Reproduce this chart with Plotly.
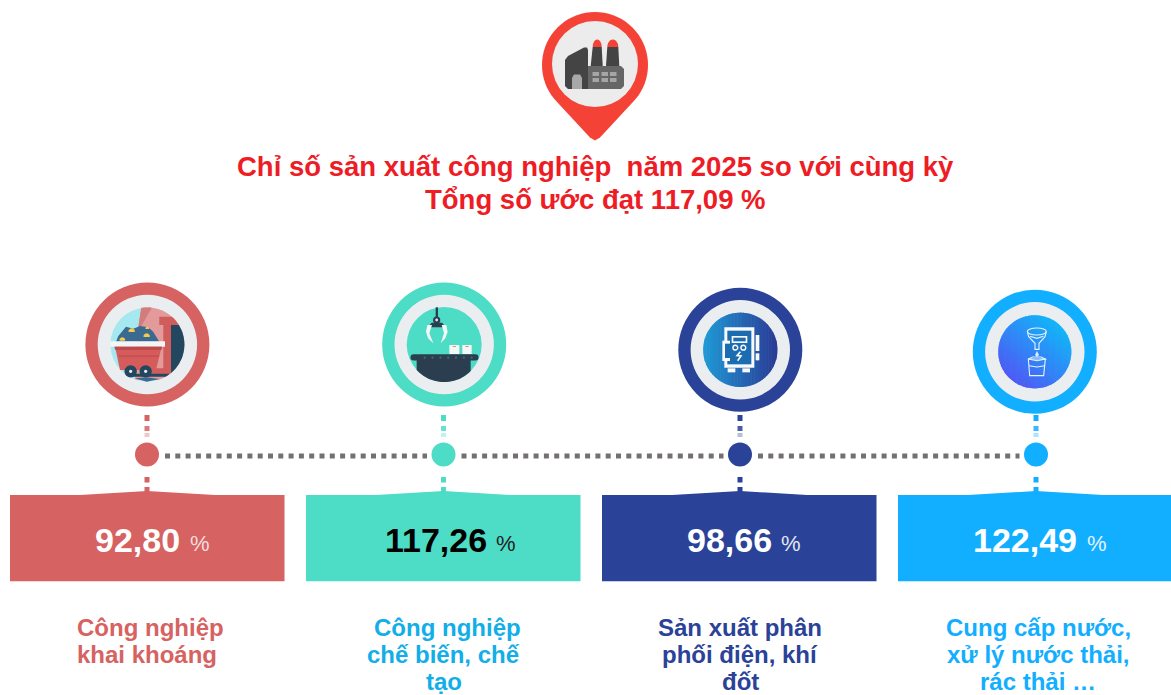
import math
import plotly.graph_objects as go

W, H = 1171, 695
FONT = "Liberation Sans"

# ---------- data ----------
title_lines = ["Chỉ số sản xuất công nghiệp\u00a0 năm 2025 so với cùng kỳ", "Tổng số ước đạt 117,09 %"]
value_labels = ["92,80", "117,26", "98,66", "122,49"]
value_colors = ["#ffffff", "#000000", "#ffffff", "#ffffff"]
percent_colors = ["#f4dede", "#222222", "#e4e6f2", "#e4f4ff"]
category_lines = [
    ["Công nghiệp", "khai khoáng"],
    ["Công nghiệp", "chế biến, chế", "tạo"],
    ["Sản xuất phân", "phối điện, khí", "đốt"],
    ["Cung cấp nước,", "xử lý nước thải,", "rác thải …"],
]
theme_colors = ["#d66262", "#4ddcc5", "#2a4298", "#12aeff"]
label_colors = ["#d66262", "#12aee8", "#2a4298", "#12aeff"]

# ---------- layout constants ----------
node_x = [147, 443.5, 740, 1036]
ring_x = [147.4, 444.2, 740.3, 1034.8]
ring_y = [344.5, 344.5, 349.8, 351.8]
inner_r = [37, 37.5, 37.2, 36.6]
box_l = [10, 306, 602, 898]
box_w = 274.5
value_dx = [-9.5, -7.5, -11, -11.5]
pct_dx = [52.5, 62, 50.5, 60.5]
label_dx = [[3, 0], [3.5, 0, 0], [0, 0, 0], [2, 2, 2]]
label_y = [627, 654.5, 681.5]

shapes = []

def rect(x0, y0, x1, y1, fill, **kw):
    shapes.append(dict(type="rect", x0=x0, y0=y0, x1=x1, y1=y1, fillcolor=fill, line_width=0, **kw))

def circ(cx, cy, r, fill, line=None, lw=0):
    shapes.append(dict(type="circle", x0=cx-r, x1=cx+r, y0=cy-r, y1=cy+r, fillcolor=fill,
                       line=dict(color=line or fill, width=lw)))

def poly(pts, fill, line=None, lw=0):
    p = "M" + " L".join(f"{x:.2f},{y:.2f}" for x, y in pts) + " Z"
    shapes.append(dict(type="path", path=p, fillcolor=fill, line=dict(color=line or fill, width=lw)))

def outline(pts, color, lw=1.2, close=False):
    p = "M" + " L".join(f"{x:.2f},{y:.2f}" for x, y in pts) + (" Z" if close else "")
    shapes.append(dict(type="path", path=p, line=dict(color=color, width=lw)))

def line(x0, y0, x1, y1, color, w, dash="solid"):
    shapes.append(dict(type="line", x0=x0, y0=y0, x1=x1, y1=y1, line=dict(color=color, width=w, dash=dash)))

def circle_pts(cx, cy, r, n=96):
    return [(cx + r*math.cos(2*math.pi*i/n), cy + r*math.sin(2*math.pi*i/n)) for i in range(n)]

def clip(subject, clipper):
    """Convex polygon clip (clockwise on screen)."""
    out = subject
    for i in range(len(clipper)):
        a, b = clipper[i], clipper[(i+1) % len(clipper)]
        inp, out = out, []
        if not inp:
            break
        def inside(p):
            return (b[0]-a[0])*(p[1]-a[1]) - (b[1]-a[1])*(p[0]-a[0]) >= 0
        def inter(p, q):
            d1 = (b[0]-a[0])*(p[1]-a[1]) - (b[1]-a[1])*(p[0]-a[0])
            d2 = (b[0]-a[0])*(q[1]-a[1]) - (b[1]-a[1])*(q[0]-a[0])
            t = d1/(d1-d2)
            return (p[0]+t*(q[0]-p[0]), p[1]+t*(q[1]-p[1]))
        s = inp[-1]
        for e in inp:
            if inside(e):
                if not inside(s):
                    out.append(inter(s, e))
                out.append(e)
            elif inside(s):
                out.append(inter(s, e))
            s = e
    return out

def hexrgb(h):
    return [int(h[i:i+2], 16) for i in (1, 3, 5)]

def gradient_disc(cx, cy, r, c0, c1, angle=0.0, n=48):
    """Disc filled with a linear gradient, from thin clipped bands."""
    disc = circle_pts(cx, cy, r)
    ux, uy = math.cos(angle), math.sin(angle)
    vx, vy = -uy, ux
    a, b = hexrgb(c0), hexrgb(c1)
    for i in range(n):
        t0 = -r + 2*r*i/n
        t1 = -r + 2*r*(i+1)/n + 0.6
        band = [(cx+ux*t0-vx*2*r, cy+uy*t0-vy*2*r), (cx+ux*t1-vx*2*r, cy+uy*t1-vy*2*r),
                (cx+ux*t1+vx*2*r, cy+uy*t1+vy*2*r), (cx+ux*t0+vx*2*r, cy+uy*t0+vy*2*r)]
        piece = clip(band, disc)
        if len(piece) > 2:
            f = (i+.5)/n
            col = "#%02x%02x%02x" % tuple(round(a[k]+(b[k]-a[k])*f) for k in range(3))
            poly(piece, col)

def rings(i):
    circ(ring_x[i], ring_y[i], 62, theme_colors[i])
    circ(ring_x[i], ring_y[i], 49.7, "#ebeef1")

def cap(x0, x1, ybase, rise):
    """Half-elliptic chimney cap."""
    mx, rx = (x0+x1)/2, (x1-x0)/2
    return [(mx+rx*math.cos(math.radians(a)), ybase+rise*math.sin(math.radians(a))) for a in range(180, 361, 15)]

# ---------- pin ----------
PCX, PCY = 595, 65
head = [(PCX+53*math.cos(math.radians(a)), PCY+53*math.sin(math.radians(a))) for a in range(-225, 46, 5)]
poly(head + [(PCX+5, 137.5), (PCX, 140.5), (PCX-5, 137.5)], "#f44336")
circ(PCX, 64, 43, "#ececec")
poly([(565, 60), (568, 56), (584, 47.5), (587, 47.5), (588, 50), (588, 89), (568, 89), (565, 86)], "#444444")
poly([(588, 66), (621, 66), (624, 69), (624, 86), (621, 89), (588, 89)], "#666666")
poly([(592.7, 47), (601.7, 47), (602.7, 66), (590.7, 66)], "#444444")
poly([(607.3, 47), (618.3, 47), (619.3, 66), (606, 66)], "#444444")
poly(cap(592.7, 601.7, 47, 7.5), "#f44336")
poly(cap(607.3, 618.3, 47, 7.5), "#f44336")
poly([(572, 89), (572, 78), (574, 74.5), (580, 74.5), (582, 78), (582, 89)], "#a8a8a8")
for wx in (592.5, 601.5, 610):
    for wy in (72, 78):
        rect(wx, wy, wx+6.5, wy+4, "#a5a5a5")

# ---------- icon 1: mine cart ----------
rings(0)
ox, oy = 70, 270
Z = lambda x, y: (ox+x/3, oy+y/3)
cdisc = circle_pts(ring_x[0], ring_y[0], inner_r[0])
circ(ring_x[0], ring_y[0], inner_r[0], "#a5e8ef")
def cpoly(zpts, fill):
    piece = clip([Z(*p) for p in zpts], cdisc)
    if len(piece) > 2:
        poly(piece, fill)
cpoly([(215, 105), (350, 105), (350, 330), (195, 330), (205, 170)], "#e39a9a")
cpoly([(215, 105), (250, 105), (212, 172), (205, 172)], "#d27c7c")
cpoly([(303, 165), (350, 165), (350, 315), (303, 315)], "#22475f")
cpoly([(268, 140), (330, 140), (330, 165), (268, 165)], "#d05c5c")
cpoly([(280, 165), (303, 165), (303, 297), (280, 297)], "#d05c5c")
cpoly([(235, 295), (303, 295), (303, 312), (235, 312)], "#d05c5c")
cpoly([(190, 311), (350, 311), (350, 320), (190, 320)], "#22475f")
poly([Z(*p) for p in [(138, 215), (145, 198), (168, 170), (190, 176), (210, 168), (235, 172), (250, 186), (268, 215)]], "#3a6a90")
for bx, by, br in [(185, 185, 10), (230, 200, 10), (157, 211, 9), (232, 176, 6)]:
    arc = [Z(bx+br*math.cos(math.radians(a)), by+br*math.sin(math.radians(a))) for a in range(180, 361, 30)]
    poly(arc + [Z(bx+br*.6, by+1), Z(bx-br*.6, by+1)], "#f5cb4c")
cpoly([(120, 214), (285, 214), (285, 230), (120, 230)], "#f2f4f6")
poly([Z(*p) for p in [(135, 230), (275, 230), (258, 300), (150, 300)]], "#d65c5c")
poly([Z(*p) for p in [(133, 230), (277, 230), (274, 240), (136, 240)]], "#bd4b4b")
poly([Z(*p) for p in [(145, 255), (268, 255), (266, 262), (147, 262)]], "#c65353")
for wxz in (182, 227):
    wc = Z(wxz, 304)
    circ(wc[0], wc[1], 6.2, "#22475f")
    circ(wc[0], wc[1], 1.7, "#e8eef2")
poly([Z(*p) for p in [(195, 325), (230, 322), (268, 327), (230, 335)]], "#3a6a90")

# ---------- icon 2: robot arm ----------
rings(1)
ox, oy = 370, 270
circ(ring_x[1], ring_y[1], inner_r[1], theme_colors[1])
cdisc = circle_pts(ring_x[1], ring_y[1], inner_r[1])
DARK = "#2b3e50"
rect(*Z(197, 112), *Z(204, 146), DARK)
circ(*Z(200, 150), 3.6, DARK)
poly([Z(*p) for p in [(185, 158), (216, 158), (228, 172), (173, 172)]], DARK)
circ(*Z(200, 150), 1.4, "#dfe7ea")
poly([Z(*p) for p in [(172, 165), (186, 165), (178, 190), (190, 220), (174, 205), (168, 185)]], "#f4f6f7")
poly([Z(*p) for p in [(215, 165), (229, 165), (233, 185), (226, 205), (212, 220), (222, 190)]], "#f4f6f7")
rect(*Z(238, 225), *Z(268, 252), "#f6f7f7")
rect(*Z(277, 225), *Z(305, 252), "#f6f7f7")
rect(*Z(248, 228), *Z(258, 231), "#f08a70")
rect(*Z(286, 228), *Z(296, 231), "#f08a70")
poly(clip([Z(*p) for p in [(140, 270), (302, 270), (302, 345), (140, 345)]], cdisc), DARK)
line(Z(134, 0)[0], Z(0, 262)[1], Z(313, 0)[0], Z(0, 262)[1], DARK, 6.4)
circ(*Z(131, 262), 3.2, DARK)
circ(*Z(316, 262), 3.2, DARK)
for k in range(7):
    circ(*Z(164+k*23.5, 263), 1.1, "#4b6475")

# ---------- icon 3: electric cabinet ----------
rings(2)
ox, oy = 665, 275
gradient_disc(ring_x[2], ring_y[2], inner_r[2], "#1f9ad6", "#2a3a95")
MID = "#1b6cb0"
WHITE = "#f8fafc"
rect(*Z(178, 157), *Z(268, 278), WHITE)
rect(*Z(187, 167), *Z(259, 268), MID)
rect(*Z(200, 183), *Z(247, 204), WHITE)
rect(*Z(205, 188), *Z(242, 199), MID)
for kx in (211, 235):
    c = Z(kx, 218)
    circ(c[0], c[1], 2.4, MID, WHITE, 1.4)
outline([Z(*p) for p in [(226, 230), (216, 242), (228, 243), (218, 257)]], WHITE, 1.6)
rect(*Z(172, 197), *Z(195, 258), WHITE)
rect(*Z(180, 206), *Z(196, 249), MID)
rect(*Z(272, 180), *Z(283, 228), WHITE)
rect(*Z(272, 235), *Z(283, 256), WHITE)
rect(*Z(188, 280), *Z(211, 292), WHITE)
rect(*Z(232, 280), *Z(255, 292), WHITE)

# ---------- icon 4: funnel and cup ----------
rings(3)
ox, oy = 960, 275
gradient_disc(ring_x[3], ring_y[3], inner_r[3], "#0fb6f8", "#4e59f5", angle=math.radians(130))
LW = 1.1
LC = "#e6f3ff"
shapes.append(dict(type="circle", x0=Z(202, 0)[0], x1=Z(259, 0)[0], y0=Z(0, 159)[1], y1=Z(0, 180)[1],
                   line=dict(color=LC, width=LW)))
outline([Z(*p) for p in [(202, 170), (206, 185), (225, 205), (225, 223), (237, 223), (237, 205), (255, 185), (259, 170)]], LC, LW)
outline([Z(*p) for p in [(210, 184), (231, 190), (250, 184)]], LC, LW)
poly([Z(*p) for p in [(231, 228), (237, 240), (231, 246), (225, 240)]], "#dcecff")
outline([Z(*p) for p in [(205, 252), (209, 302), (251, 302), (256, 252)]], LC, LW, close=True)
outline([Z(*p) for p in [(205, 252), (218, 246), (243, 246), (256, 252), (231, 257), (205, 252)]], LC, LW)
outline([Z(*p) for p in [(207, 272), (231, 276), (254, 272)]], LC, LW)

# ---------- timeline ----------
for a, b in zip(node_x[:-1], node_x[1:]):
    line(a+18, 456, b-16.5, 456, "#757070", 5, dash="5px,5.3px")

for i, nx in enumerate(node_x):
    col = theme_colors[i]
    rect(nx-2.5, 415, nx+2.5, 421, col)
    rect(nx-2.5, 426, nx+2.5, 431, col, opacity=0.85)
    rect(nx-2.5, 433, nx+2.5, 437, col, opacity=0.35)
    rect(nx-2.5, 477, nx+2.5, 482.5, col)
    rect(nx-2.5, 487, nx+2.5, 492, col)
    l = box_l[i]
    r = min(l+box_w, W)
    shapes.append(dict(type="path",
                       path=f"M{l},495 L{l+70},495 L{nx},491 L{l+205},495 L{r},495 L{r},581.3 L{l},581.3 Z",
                       fillcolor=col, line_width=0))

# ---------- text ----------
ann = []
def text(x, y, s, size, color, bold=True):
    body = f"<b>{s}</b>" if bold else s
    ann.append(dict(x=x, y=y, xref="x", yref="y", text=body, showarrow=False, xanchor="center", yanchor="middle",
                    borderpad=0, font=dict(family=FONT, size=size, color=color)))

text(595, 166, title_lines[0], 27.5, "#ee1c25")
text(595, 199, title_lines[1], 27.5, "#ee1c25")
for i, nx in enumerate(node_x):
    text(nx+value_dx[i], 539.5, value_labels[i], 34, value_colors[i])
    text(nx+pct_dx[i], 543, "%", 22, percent_colors[i], bold=False)
    for j, ln in enumerate(category_lines[i]):
        text(nx+label_dx[i][j], label_y[j], ln, 24, label_colors[i])

fig = go.Figure()
fig.add_trace(go.Scatter(x=node_x, y=[454.5]*4, mode="markers", hoverinfo="skip",
                         marker=dict(size=24, color=theme_colors, line_width=0)))
fig.update_layout(
    width=W, height=H, margin=dict(l=0, r=0, t=0, b=0), autosize=False,
    paper_bgcolor="white", plot_bgcolor="white", showlegend=False,
    xaxis=dict(range=[0, W], visible=False, fixedrange=True),
    yaxis=dict(range=[H, 0], visible=False, fixedrange=True),
    shapes=shapes, annotations=ann,
)
fig.write_html("out.html", config=dict(displayModeBar=False), default_width=W, default_height=H,
               post_script="document.body.style.margin='0';")
